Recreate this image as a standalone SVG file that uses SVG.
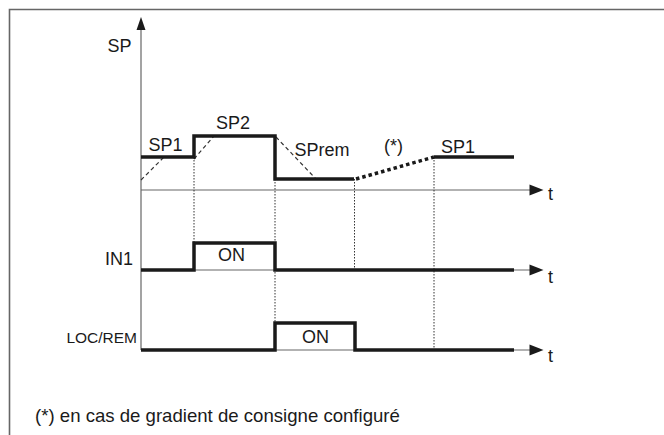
<svg xmlns="http://www.w3.org/2000/svg" width="664" height="435" viewBox="0 0 664 435">
  <defs>
    <style>
      text { font-family: "Liberation Sans", Arial, sans-serif; fill: #1a1a1a; }
      .lbl { font-size: 18px; }
      .note { font-size: 18.6px; }
      .small { font-size: 15.5px; }
      .frame { fill: none; stroke: #666; stroke-width: 1.6; }
      .axis { fill: none; stroke: #666; stroke-width: 1.2; }
      .sig { fill: none; stroke: #1a1a1a; stroke-width: 3.5; stroke-linejoin: miter; }
      .ramp { fill: none; stroke: #1a1a1a; stroke-width: 3.5; stroke-dasharray: 3.5 3; }
      .dash { fill: none; stroke: #333; stroke-width: 1.2; stroke-dasharray: 4 3; }
      .guide { fill: none; stroke: #333; stroke-width: 1; stroke-dasharray: 1.5 1.5; }
      .head { fill: #1a1a1a; }
    </style>
  </defs>

  <!-- outer frame (open on the right and at the bottom) -->
  <path class="frame" d="M9.5,436 V9.5 H665"/>

  <!-- axes -->
  <g id="axes">
    <line class="axis" x1="141" y1="28" x2="141" y2="350"/>
    <polygon class="head" points="141,17 136.5,30 145.5,30"/>
    <line class="axis" x1="141" y1="190" x2="532" y2="190"/>
    <polygon class="head" points="543.5,190 529.5,184.5 529.5,195.5"/>
    <line class="axis" x1="141" y1="270" x2="532" y2="270"/>
    <polygon class="head" points="543.5,270 529.5,264.5 529.5,275.5"/>
    <line class="axis" x1="141" y1="350" x2="532" y2="350"/>
    <polygon class="head" points="543.5,350 529.5,344.5 529.5,355.5"/>
    <text class="lbl" x="548" y="200">t</text>
    <text class="lbl" x="548" y="283">t</text>
    <text class="lbl" x="548" y="362">t</text>
  </g>

  <!-- time markers -->
  <g id="guides">
    <line class="guide" x1="194" y1="157" x2="194" y2="243"/>
    <line class="guide" x1="275" y1="179" x2="275" y2="323"/>
    <line class="guide" x1="354.5" y1="179" x2="354.5" y2="270"/>
    <line class="guide" x1="434" y1="157" x2="434" y2="350"/>
  </g>

  <!-- setpoint trace -->
  <g id="sp-trace">
    <text class="lbl" x="107.5" y="52">SP</text>
    <path class="dash" d="M141,180 L164,157"/>
    <path class="dash" d="M194,159 L214,136"/>
    <path class="dash" d="M276,137 L316,179"/>
    <path class="sig" d="M141,157 H194 V136 H275 V179 H354"/>
    <path class="ramp" d="M356,179 L434,157"/>
    <path class="sig" d="M434,157 H514"/>
    <text class="lbl" x="148.5" y="150.5">SP1</text>
    <text class="lbl" x="216" y="129">SP2</text>
    <text class="lbl" x="294.5" y="156">SPrem</text>
    <text class="lbl" x="384" y="152">(*)</text>
    <text class="lbl" x="441" y="152.5">SP1</text>
  </g>

  <!-- IN1 input -->
  <g id="in1">
    <text class="lbl" x="133" y="265" text-anchor="end">IN1</text>
    <path class="sig" d="M141,270 H194 V243 H275 V270 H514"/>
    <text class="lbl" x="218" y="261">ON</text>
  </g>

  <!-- LOC/REM input -->
  <g id="locrem">
    <text class="small" x="137" y="343" text-anchor="end">LOC/REM</text>
    <path class="sig" d="M141,350 H275 V323 H355 V350 H514"/>
    <text class="lbl" x="302" y="343">ON</text>
  </g>

  <!-- footnote -->
  <text class="note" x="35" y="421.5">(*) en cas de gradient de consigne configuré</text>
</svg>
